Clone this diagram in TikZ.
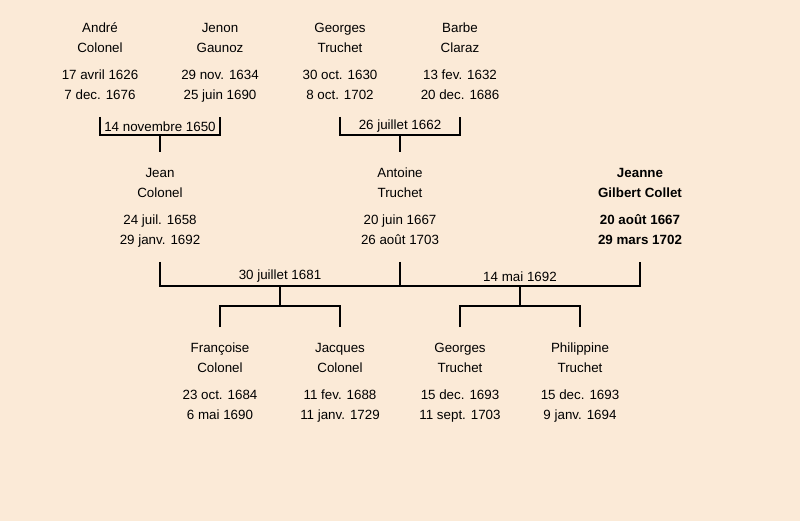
\documentclass[tikz,border=0pt]{standalone}
\usepackage{fontspec}
\setmainfont{Liberation Sans}
\usepackage{tikz}
\usetikzlibrary{positioning}
\definecolor{peach}{RGB}{251,234,215}
\newcommand{\person}[4]{\strut #1\\#2\\[5.7pt]#3\\#4\strut}

\begin{document}
\begin{tikzpicture}[x=0.025cm, y=-0.025cm, line width=1.4pt]
   \fill[peach] (0,0) rectangle (800,521);
   \useasboundingbox (0,0) rectangle (800,521);
   \begin{scope}[every node/.style={align=center, minimum height=108*0.025cm, inner sep=0pt, font=\fontsize{9.5}{14.2}\selectfont}]
    \node (v1) at (100,62) {\person{André}{Colonel}{17 avril 1626}{7 dec. 1676}};
    \node (v2) at (220,62) {\person{Jenon}{Gaunoz}{29 nov. 1634}{25 juin 1690}};
    \node (v3) at (340,62) {\person{Georges}{Truchet}{30 oct. 1630}{8 oct. 1702}};
    \node (v4) at (460,62) {\person{Barbe}{Claraz}{13 fev. 1632}{20 dec. 1686}};
    \node (v5) at (160,207) {\person{Jean}{Colonel}{24 juil. 1658}{29 janv. 1692}};
    \node (v6) at (400,207) {\person{Antoine}{Truchet}{20 juin 1667}{26 août 1703}};
    \node (v7) [font=\fontsize{9.5}{14.2}\selectfont\bfseries] at (640,207) {\person{Jeanne}{Gilbert Collet}{20 août 1667}{29 mars 1702}};
    \node (v8) at (220,382) {\person{Françoise}{Colonel}{23 oct. 1684}{6 mai 1690}};
    \node (v9) at (340,382) {\person{Jacques}{Colonel}{11 fev. 1688}{11 janv. 1729}};
    \node (v10) at (460,382) {\person{Georges}{Truchet}{15 dec. 1693}{11 sept. 1703}};
    \node (v11) at (580,382) {\person{Philippine}{Truchet}{15 dec. 1693}{9 janv. 1694}};
   \end{scope}
   \begin{scope}[every node/.style={font=\fontsize{9.5}{11}\selectfont, inner sep=0pt}]
    \node (d1) at (160,126.5) {14 novembre 1650};
    \node (d2) at (400,126.5) {26 juillet 1662};
    \node (d3) at (280,276.5) {30 juillet 1681};
    \node (d4) at (520,276.5) {14 mai 1692};
   \end{scope}
   \coordinate (m1) at (160,135);
   \coordinate (m2) at (400,135);
   \coordinate (m3) at (280,286);
   \coordinate (m4) at (520,286);
   \coordinate (k1) at (280,306);
   \coordinate (k2) at (520,306);
   \draw (v1.south) |- (m1) -| (v2.south);
   \draw (v3.south) |- (m2) -| (v4.south);
   \draw (m1) -- (v5.north);
   \draw (m2) -- (v6.north);
   \draw (v5.south) |- (m3) -| (v6.south);
   \draw (v6.south) |- (m4) -| (v7.south);
   \draw (m3) -- (k1);
   \draw (m4) -- (k2);
   \draw (v8.north) |- (k1) -| (v9.north);
   \draw (v10.north) |- (k2) -| (v11.north);
\end{tikzpicture}
\end{document}
